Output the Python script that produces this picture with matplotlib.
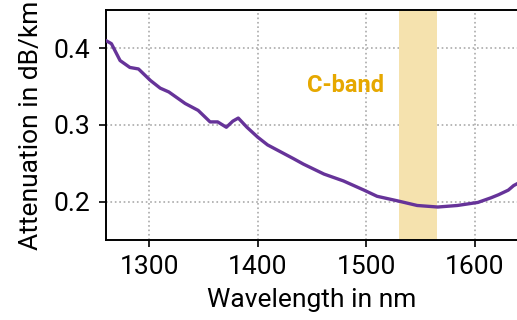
import matplotlib
matplotlib.use('Agg')
import matplotlib.pyplot as plt

plt.rcParams['font.family'] = ['Roboto', 'DejaVu Sans']

# fibre attenuation
wavelength = [1260, 1265, 1273, 1282, 1290, 1301, 1310, 1318, 1326, 1333, 1341, 1345,
              1356, 1363, 1371, 1377, 1382, 1390, 1400, 1409, 1421, 1433, 1442, 1461,
              1479, 1498, 1510, 1529, 1547, 1566, 1584, 1603, 1615, 1622, 1631, 1636, 1640]
attenuation = [0.410, 0.406, 0.384, 0.375, 0.373, 0.358, 0.348, 0.343, 0.335, 0.328, 0.322, 0.319,
               0.304, 0.304, 0.297, 0.305, 0.309, 0.297, 0.284, 0.274, 0.265, 0.256, 0.249, 0.236,
               0.227, 0.215, 0.207, 0.201, 0.195, 0.193, 0.195, 0.199, 0.205, 0.209, 0.215, 0.221, 0.224]
cband = (1530, 1565)
xticks = [1300, 1400, 1500, 1600]
yticks = [0.2, 0.3, 0.4]

fig = plt.figure(figsize=(5.17, 3.2), dpi=100)
ax = fig.add_axes([0.205, 0.25, 0.797, 0.719])

ax.axvspan(cband[0], cband[1], color='#f5e2ae', lw=0, zorder=1)
ax.plot(wavelength, attenuation, color='#663399', lw=2.4, zorder=3)
ax.text(1481, 0.352, 'C-band', color='#e6a800', fontsize=17, fontweight='bold',
        ha='center', va='center')

ax.set_xlim(1260, 1640)
ax.set_ylim(0.15, 0.45)
ax.set_xticks(xticks)
ax.set_yticks(yticks)
ax.grid(True, ls=':', color='#aaaaaa', lw=1.2, zorder=0)
ax.set_axisbelow(True)
ax.tick_params(labelsize=19, length=5, width=1.2, pad=6)
for s in ax.spines.values():
    s.set_linewidth(1.4)
ax.spines['right'].set_visible(False)

ax.set_xlabel('Wavelength in nm', fontsize=19, labelpad=6)
ax.set_ylabel('Attenuation in dB/km', fontsize=19, labelpad=8)

fig.savefig('out.png', dpi=100)
